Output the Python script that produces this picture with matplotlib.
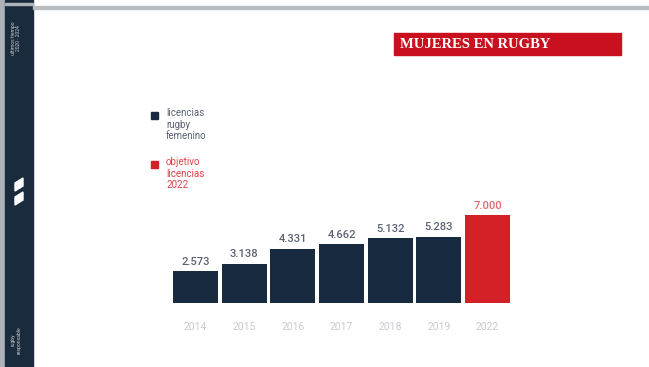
import matplotlib
matplotlib.use("Agg")
import matplotlib.pyplot as plt
from matplotlib.patches import Rectangle, Polygon

# datos
anios = ['2014', '2015', '2016', '2017', '2018', '2019', '2022']
licencias = [2573, 3138, 4331, 4662, 5132, 5283, 7000]
etiquetas = ['2.573', '3.138', '4.331', '4.662', '5.132', '5.283', '7.000']
es_objetivo = [False, False, False, False, False, False, True]

azul = '#172a3f'
rojo = '#d42027'
gris_texto = '#5b6272'
gris_anio = '#c9cbcf'

plt.rcParams['font.family'] = ['Roboto', 'DejaVu Sans']

W, H = 649, 367
fig = plt.figure(figsize=(W / 100, H / 100), dpi=100)
fig.patch.set_facecolor('white')

def px(x, y, w, h):
    # rectangulo en pixeles (origen arriba a la izquierda) -> coords de figura
    return (x / W, 1 - (y + h) / H, w / W, h / H)

def rect(x, y, w, h, color, z=1):
    x0, y0, w0, h0 = px(x, y, w, h)
    fig.patches.append(Rectangle((x0, y0), w0, h0, transform=fig.transFigure, color=color, zorder=z))

# franja lateral y linea superior
rect(0, 0, 5, H, '#aeb3b9', 0)
rect(5, 0, 28, H, '#1b2b3e', 1)
rect(33, 6, W - 33, 3, '#b9bdc2', 1)
rect(5, 3, 28, 2, '#aeb3b9', 2)

# logo (dos paralelogramos)
for top in (178, 192):
    pts = [(15, top + 5), (23, top), (23, top + 8), (15, top + 13)]
    fig.patches.append(Polygon([(a / W, 1 - b / H) for a, b in pts], closed=True,
                               transform=fig.transFigure, color='white', zorder=3))

fig.text(16 / W, 1 - 38 / H, 'ultimos tiempo\n2020 · 2024', rotation=90, color='#c9cdd3',
         fontsize=3.6, ha='center', va='center', linespacing=1.1, zorder=4)
fig.text(16 / W, 1 - 340 / H, 'rugby\nresponsable', rotation=90, color='#c9cdd3',
         fontsize=3.6, ha='center', va='center', linespacing=1.1, zorder=4)

# titulo
rect(394, 33, 227, 22, '#c8101e', 1)
fig.text(400 / W, 1 - 44.5 / H, 'MUJERES EN RUGBY', color='white', fontsize=10.5,
         fontweight='bold', family='Liberation Serif', ha='left', va='center', zorder=2)

# leyenda
rect(151, 112, 7, 7, azul)
fig.text(166 / W, 1 - 108 / H, 'licencias\nrugby\nfemenino', color=gris_texto, fontsize=7,
         ha='left', va='top', linespacing=1.2)
rect(151, 161, 7, 7, rojo)
fig.text(166 / W, 1 - 157 / H, 'objetivo\nlicencias\n2022', color='#e0414a', fontsize=7,
         ha='left', va='top', linespacing=1.2)

# grafico de barras
ax = fig.add_axes(px(159, 303 - 105.6, 365, 105.6))
colores = [rojo if o else azul for o in es_objetivo]
pos = list(range(len(anios)))
barras = ax.bar(pos, licencias, width=0.92, color=colores)
for b, txt, o in zip(barras, etiquetas, es_objetivo):
    ax.text(b.get_x() + b.get_width() / 2, b.get_height() + 330, txt,
            ha='center', va='bottom', fontsize=8, fontweight='medium',
            color='#e06a70' if o else gris_texto)
ax.set_xlim(-0.75, 6.75)
ax.set_ylim(0, 8400)
ax.set_xticks(pos)
ax.set_xticklabels(anios, color=gris_anio, fontsize=7.5)
ax.tick_params(axis='x', length=0, pad=14)
ax.set_yticks([])
for s in ax.spines.values():
    s.set_visible(False)
ax.patch.set_alpha(0)

fig.savefig('out.png', dpi=100)
